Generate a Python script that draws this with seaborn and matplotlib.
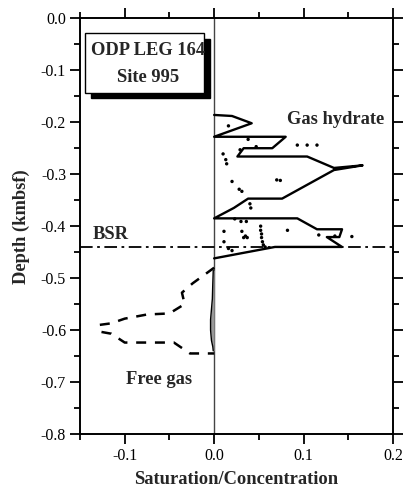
import numpy as np
import pandas as pd
import matplotlib
matplotlib.use("Agg")
import matplotlib.pyplot as plt
from matplotlib.patches import Rectangle
import seaborn as sns

# ---- data ----
hydrate_sat = [0.0, 0.020, 0.042, 0.0, 0.080, 0.065, 0.033, 0.026, 0.104, 0.134, 0.166,
               0.134, 0.076, 0.038, 0.022, 0.0, 0.093, 0.115, 0.143, 0.140, 0.126,
               0.143, 0.068, 0.0]
hydrate_depth = [-0.186, -0.188, -0.202, -0.228, -0.228, -0.250, -0.250, -0.266, -0.266,
                 -0.288, -0.283, -0.292, -0.347, -0.347, -0.365, -0.385, -0.385, -0.406,
                 -0.406, -0.421, -0.421, -0.440, -0.440, -0.462]

conc_x = [0.016, 0.038, 0.047, 0.029, 0.010, 0.013, 0.014, 0.093, 0.104, 0.115,
          0.020, 0.070, 0.074, 0.028, 0.031, 0.040, 0.041, 0.023, 0.030, 0.036,
          0.052, 0.052, 0.053, 0.053, 0.054, 0.055, 0.057, 0.011, 0.082, 0.117,
          0.135, 0.154, 0.011, 0.033, 0.035, 0.037, 0.016, 0.020, 0.031]
conc_depth = [-0.207, -0.233, -0.247, -0.253, -0.261, -0.272, -0.280, -0.244, -0.244, -0.244,
              -0.314, -0.311, -0.312, -0.329, -0.333, -0.357, -0.365, -0.386, -0.391, -0.391,
              -0.400, -0.408, -0.415, -0.422, -0.430, -0.436, -0.440, -0.410, -0.408, -0.417,
              -0.419, -0.420, -0.430, -0.422, -0.419, -0.422, -0.443, -0.447, -0.410]

freegas_sat = [0.0, -0.024, -0.036, -0.033, -0.050, -0.075, -0.100, -0.115, -0.128,
               -0.128, -0.115, -0.100, -0.045, -0.027, 0.0]
freegas_depth = [-0.480, -0.510, -0.528, -0.550, -0.568, -0.570, -0.578, -0.587, -0.590,
                 -0.603, -0.607, -0.624, -0.624, -0.645, -0.645]

lowgas_sat = [-0.001, -0.0015, -0.002, -0.003, -0.004, -0.004, -0.003, -0.0015, -0.001]
lowgas_depth = [-0.485, -0.510, -0.540, -0.560, -0.580, -0.600, -0.620, -0.632, -0.640]

bsr_depth = -0.44

x_ticks = [-0.1, 0.0, 0.1, 0.2]
y_ticks = [0.0, -0.1, -0.2, -0.3, -0.4, -0.5, -0.6, -0.7, -0.8]

# ---- style ----
sns.set_theme(style="ticks")
plt.rcParams["font.family"] = ["Liberation Serif", "DejaVu Serif"]

fig = plt.figure(figsize=(4.03, 4.91), dpi=100)
ax = fig.add_axes([80 / 403, 1 - 434 / 491, (393 - 80) / 403, (434 - 18.3) / 491])

hyd = pd.DataFrame({"sat": hydrate_sat, "depth": hydrate_depth})
fg = pd.DataFrame({"sat": freegas_sat, "depth": freegas_depth})
lg = pd.DataFrame({"sat": lowgas_sat, "depth": lowgas_depth})
cc = pd.DataFrame({"sat": conc_x, "depth": conc_depth})

ax.axvline(0, color="#444444", lw=1.0, zorder=1)
ax.axhline(bsr_depth, color="black", lw=1.3, linestyle=(0, (7, 2.5, 1.5, 2.5)), zorder=2)

sns.lineplot(data=hyd, x="sat", y="depth", sort=False, estimator=None, color="black",
             lw=1.7, ax=ax, zorder=3)
sns.lineplot(data=fg, x="sat", y="depth", sort=False, estimator=None, color="black",
             lw=1.8, linestyle=(0, (4, 3.5)), ax=ax, zorder=3)
ax.fill_betweenx(lowgas_depth, lowgas_sat, 0, color="#999999", lw=0, zorder=2)
sns.lineplot(data=lg, x="sat", y="depth", sort=False, estimator=None, color="black",
             lw=1.0, ax=ax, zorder=3)
sns.scatterplot(data=cc, x="sat", y="depth", color="black", s=6, edgecolor="none",
                ax=ax, zorder=4)

ax.set_xlim(-0.15, 0.2)
ax.set_ylim(-0.8, 0.0)
ax.set_xticks(x_ticks)
ax.set_xticklabels(["-0.1", "0.0", "0.1", "0.2"])
ax.set_yticks(y_ticks)
ax.set_yticklabels([f"{v:.1f}" for v in y_ticks])
ax.set_xticks(np.arange(-0.15, 0.2001, 0.05), minor=True)
ax.set_yticks(np.arange(-0.8, 0.0001, 0.05), minor=True)
ax.tick_params(which="both", direction="out", top=True, right=True, color="black",
               width=1.3, labelsize=11.5, labelcolor="black", pad=3)
ax.tick_params(which="major", length=7)
ax.tick_params(which="minor", length=4)
for s in ax.spines.values():
    s.set_linewidth(1.4)
    s.set_color("black")

ax.set_xlabel("Saturation/Concentration", fontsize=13.3, fontweight="bold", labelpad=5)
ax.set_ylabel("Depth (kmbsf)", fontsize=13.3, fontweight="bold", labelpad=8)

# annotations
ax.text(0.136, -0.195, "Gas hydrate", fontsize=13.3, fontweight="bold", ha="center", va="center")
ax.text(-0.062, -0.695, "Free gas", fontsize=13.3, fontweight="bold", ha="center", va="center")
ax.text(-0.1355, -0.417, "BSR", fontsize=13.3, fontweight="bold", ha="left", va="center")

ax.add_patch(Rectangle((-0.1378, -0.154), 0.1336, 0.114, facecolor="black",
                       edgecolor="black", zorder=5))
ax.add_patch(Rectangle((-0.1446, -0.143), 0.1336, 0.1147, facecolor="white",
                       edgecolor="black", lw=1.0, zorder=6))
ax.text(-0.074, -0.0625, "ODP LEG 164", fontsize=13.3, fontweight="bold",
        ha="center", va="center", zorder=7)
ax.text(-0.074, -0.1145, "Site 995", fontsize=13.3, fontweight="bold",
        ha="center", va="center", zorder=7)

fig.savefig("out.png", dpi=100)
